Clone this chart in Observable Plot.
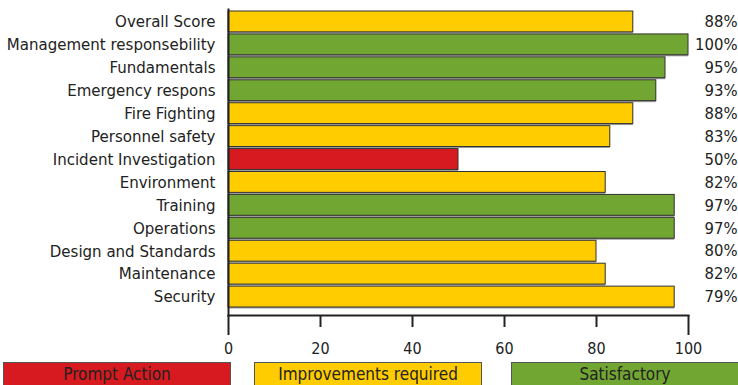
<!DOCTYPE html>
<html>
<head>
<meta charset="utf-8">
<script src="https://cdn.jsdelivr.net/npm/d3@7"></script>
<script src="https://cdn.jsdelivr.net/npm/@observablehq/plot@0.6"></script>
<style>
  html, body { margin: 0; padding: 0; background: #fff; }
  body { width: 738px; height: 385px; overflow: hidden; font-family: "DejaVu Sans Condensed", sans-serif; }
  #chart svg { display: block; }
  #legend { position: relative; height: 27px; }
  .lg { position: absolute; top: 4px; height: 30px; box-sizing: border-box; border: 1px solid #555;
        text-align: center; font-size: 17px; line-height: 23px; color: #222; }
</style>
</head>
<body>
<div id="chart"></div>
<div id="legend"></div>
<script>
const categories = ["Overall Score","Management responsebility","Fundamentals","Emergency respons","Fire Fighting","Personnel safety","Incident Investigation","Environment","Training","Operations","Design and Standards","Maintenance","Security"];
const values = [88,100,95,93,88,83,50,82,97,97,80,82,97];
const valueLabels = ["88%","100%","95%","93%","88%","83%","50%","82%","97%","97%","80%","82%","79%"];
const status = ["Improvements required","Satisfactory","Satisfactory","Satisfactory","Improvements required","Improvements required","Prompt Action","Improvements required","Satisfactory","Satisfactory","Improvements required","Improvements required","Improvements required"];
const legendItems = ["Prompt Action","Improvements required","Satisfactory"];
const legendColors = ["#D71920","#FFCC00","#72A632"];
const xTicks = [0,20,40,60,80,100];

const data = categories.map((c,i) => ({cat: c, value: values[i], label: valueLabels[i], status: status[i]}));
const colorOf = Object.fromEntries(legendItems.map((k,i) => [k, legendColors[i]]));
const font = '"DejaVu Sans Condensed", sans-serif';

const chart = Plot.plot({
  width: 738,
  height: 358,
  marginLeft: 228,
  marginRight: 50,
  marginTop: 9,
  marginBottom: 43,
  style: {fontFamily: font, fontSize: "16px", color: "#222", background: "#fff"},
  x: {domain: [0,100], ticks: xTicks},
  y: {domain: categories, range: [11, 307], paddingInner: 0.09, paddingOuter: 0, round: false},
  marks: [
    Plot.barX(data, {x: "value", y: "cat", fill: "#999", dy: 1.5}),
    Plot.barX(data, {x: "value", y: "cat", fill: d => colorOf[d.status], stroke: "#333", strokeWidth: 1}),
    Plot.text(data, {x: 100, y: "cat", text: "label", textAnchor: "end", dx: 49, fontSize: 16.5, fill: "#222"}),
    Plot.axisY({tickSize: 0, tickPadding: 13, fontSize: 16.7, label: null}),
    Plot.frame({anchor: "left", stroke: "#222", strokeWidth: 2}),
    Plot.axisX({ticks: [20,40,60,80], tickSize: 12, tickFormat: () => "", label: null, strokeWidth: 2, stroke: "#222"}),
    Plot.axisX({ticks: [0,100], tickSize: 20, tickFormat: () => "", label: null, strokeWidth: 2, stroke: "#222"}),
    Plot.axisX({ticks: xTicks, tickSize: 0, tickPadding: 27, label: null, fontSize: 16}),
    Plot.frame({anchor: "bottom", stroke: "#222", strokeWidth: 2})
  ]
});
document.getElementById("chart").appendChild(chart);

const legend = document.getElementById("legend");
const lefts = [3, 254, 511];
const widths = [228, 228, 228];
legendItems.forEach((k,i) => {
  const d = document.createElement("div");
  d.className = "lg";
  d.style.left = lefts[i] + "px";
  d.style.width = widths[i] + "px";
  d.style.background = legendColors[i];
  d.textContent = k;
  legend.appendChild(d);
});
</script>
</body>
</html>
